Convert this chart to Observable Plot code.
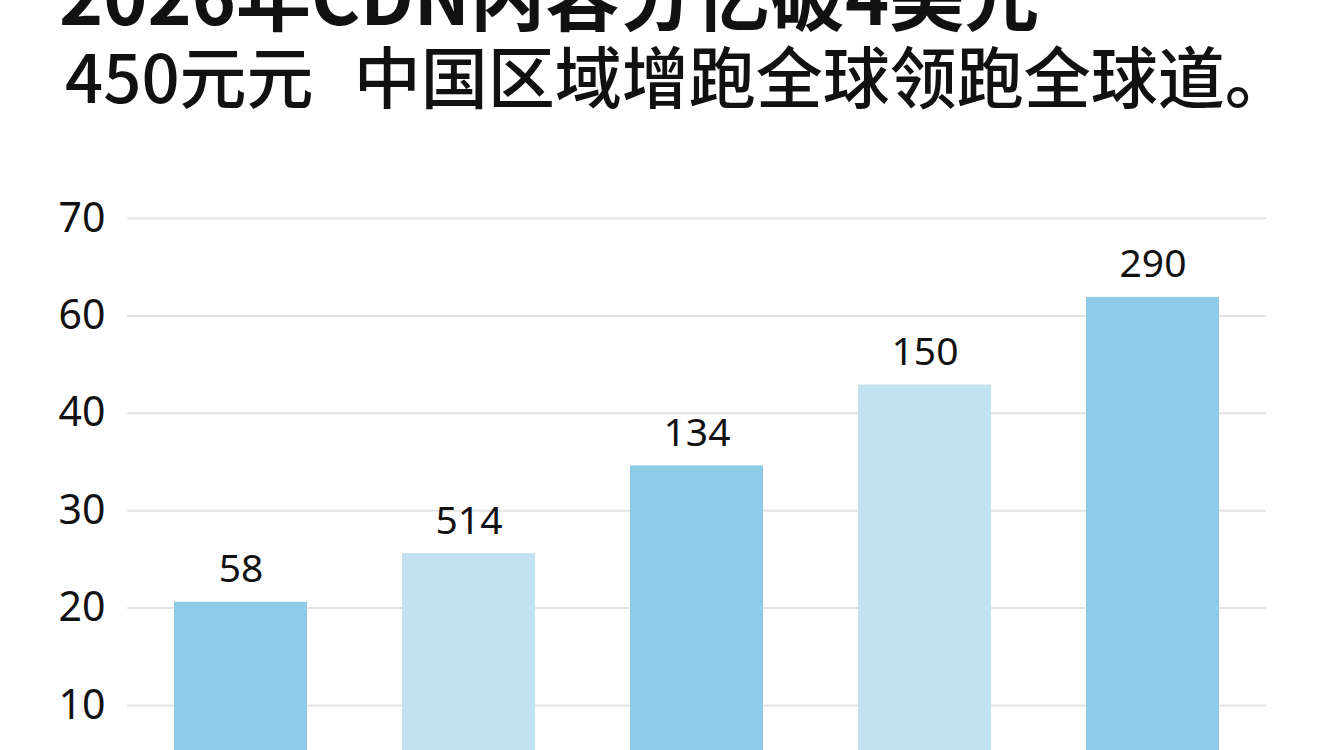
<!DOCTYPE html>
<html><head><meta charset="utf-8">
<script src="https://cdn.jsdelivr.net/npm/d3@7"></script>
<script src="https://cdn.jsdelivr.net/npm/@observablehq/plot@0.6"></script>
<style>
html,body{margin:0;padding:0;background:#fff;width:1344px;height:750px;overflow:hidden;}
#page{position:relative;width:1344px;height:750px;overflow:hidden;}
.title{position:absolute;left:59px;top:-45px;font-family:"Noto Sans CJK SC";font-weight:700;font-size:75px;line-height:1;color:#111;white-space:pre;}
.subtitle{position:absolute;left:65px;top:40px;font-family:"Noto Sans CJK SC";font-weight:500;font-size:67px;line-height:1;color:#111;white-space:pre;word-spacing:5px;}
#chart{position:absolute;left:0;top:150px;}
</style></head><body><div id="page">
<div class="title" id="title"></div>
<div class="subtitle" id="subtitle"></div>
<div id="chart"></div></div>
<script>
const titleText = "2026年CDN内容分亿破4美元";
const subtitleText = "450元元  中国区域增跑全球领跑全球道。";
const categories = ["1","2","3","4","5"];
const values = [20.6, 25.6, 34.6, 42.9, 51.9];
const valueLabels = ["58","514","134","150","290"];
const barColors = ["#8ecbe7","#c2e2f2","#8ecbe7","#c2e2f2","#8ecbe7"];
const yTickValues = [10,20,30,40,50,60];
const yTickLabels = ["10","20","30","40","60","70"];

document.getElementById("title").textContent = titleText;
document.getElementById("subtitle").textContent = subtitleText;

const data = categories.map((c,i)=>({cat:c, value:values[i], label:valueLabels[i], color:barColors[i]}));

const plot = Plot.plot({
  width:1344, height:600, marginLeft:127, marginRight:78, marginTop:0, marginBottom:0,
  style:{fontFamily:'"Noto Sans", sans-serif', background:"transparent", color:"#111"},
  x:{domain:categories, paddingInner:0.417, paddingOuter:0.2, axis:null},
  y:{domain:[0,60], range:[652.4,68], axis:null},
  color:{type:"identity"},
  marks:[
    Plot.gridY(yTickValues,{stroke:"#e3e3e3", strokeOpacity:1, strokeWidth:2}),
    Plot.barY(data,{x:"cat", y:"value", fill:"color", clip:true}),
    Plot.axisY(yTickValues,{tickSize:0, tickPadding:22, fontSize:41, fill:"#111", label:null,
      tickFormat:d=>yTickLabels[yTickValues.indexOf(d)]}),
    Plot.text(data,{x:"cat", y:"value", text:"label", dy:-20, lineAnchor:"bottom", fontSize:39, fill:"#111"})
  ]
});
document.getElementById("chart").appendChild(plot);
</script>
</body></html>
